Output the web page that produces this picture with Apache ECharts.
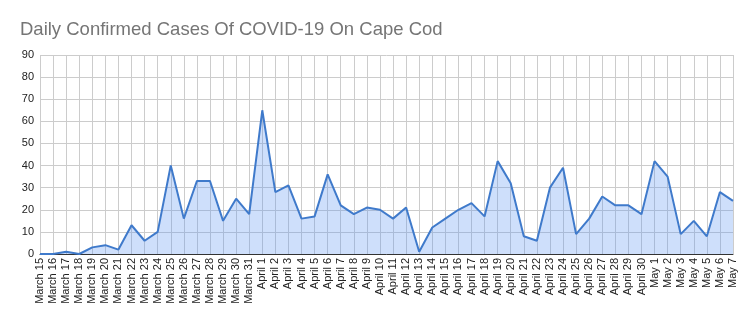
<!DOCTYPE html>
<html>
<head>
<meta charset="utf-8">
<script src="https://cdn.jsdelivr.net/npm/echarts@6/dist/echarts.min.js"></script>
<style>
  html, body { margin: 0; padding: 0; background: #fff; }
  #chart { width: 750px; height: 323px; }
</style>
</head>
<body>
<div id="chart"></div>
<script>
// Daily confirmed cases on Cape Cod, March 15 – May 7
const marchDays = [15, 16, 17, 18, 19, 20, 21, 22, 23, 24, 25, 26, 27, 28, 29, 30, 31];
const aprilDays = Array.from({ length: 30 }, (_, i) => i + 1);
const mayDays = [1, 2, 3, 4, 5, 6, 7];

const categories = [
  ...marchDays.map(d => 'March ' + d),
  ...aprilDays.map(d => 'April ' + d),
  ...mayDays.map(d => 'May ' + d)
];

const marchCases = [0, 0, 1, 0, 3, 4, 2, 13, 6, 10, 40, 16, 33, 33, 15, 25, 18];
const aprilCases = [65, 28, 31, 16, 17, 36, 22, 18, 21, 20, 16, 21, 1, 12, 16, 20, 23, 17, 42, 32,
                    8, 6, 30, 39, 9, 16, 26, 22, 22, 18];
const mayCases = [42, 35, 9, 15, 8, 28, 24];
const cases = [...marchCases, ...aprilCases, ...mayCases];

const yTicks = { min: 0, max: 90, interval: 10 };

const chart = echarts.init(document.getElementById('chart'));
chart.setOption({
  animation: false,
  backgroundColor: '#ffffff',
  title: {
    text: 'Daily Confirmed Cases Of COVID-19 On Cape Cod',
    left: 15,
    top: 15,
    textStyle: {
      fontFamily: 'Liberation Sans, Arial, sans-serif',
      fontSize: 18.5,
      fontWeight: 'normal',
      color: '#757575'
    }
  },
  grid: { left: 40, right: 17, top: 55, bottom: 69, containLabel: false },
  xAxis: {
    type: 'category',
    data: categories,
    boundaryGap: false,
    axisLine: { show: true, lineStyle: { color: '#333', width: 1 } },
    axisTick: { show: false },
    splitLine: { show: true, lineStyle: { color: '#cccccc', width: 1 } },
    axisLabel: {
      interval: 0,
      rotate: 90,
      margin: 4,
      fontFamily: 'Liberation Sans, Arial, sans-serif',
      fontSize: 11,
      color: '#222'
    }
  },
  yAxis: {
    type: 'value',
    min: yTicks.min,
    max: yTicks.max,
    interval: yTicks.interval,
    axisLine: { show: false },
    axisTick: { show: false },
    splitLine: { lineStyle: { color: '#cccccc', width: 1 } },
    axisLabel: {
      margin: 6,
      fontFamily: 'Liberation Sans, Arial, sans-serif',
      fontSize: 11,
      color: '#222'
    }
  },
  series: [{
    type: 'line',
    data: cases,
    symbol: 'none',
    lineStyle: { color: '#3f7acb', width: 2 },
    areaStyle: { color: 'rgba(90,145,240,0.42)' },
    z: 3
  }]
});
</script>
</body>
</html>
